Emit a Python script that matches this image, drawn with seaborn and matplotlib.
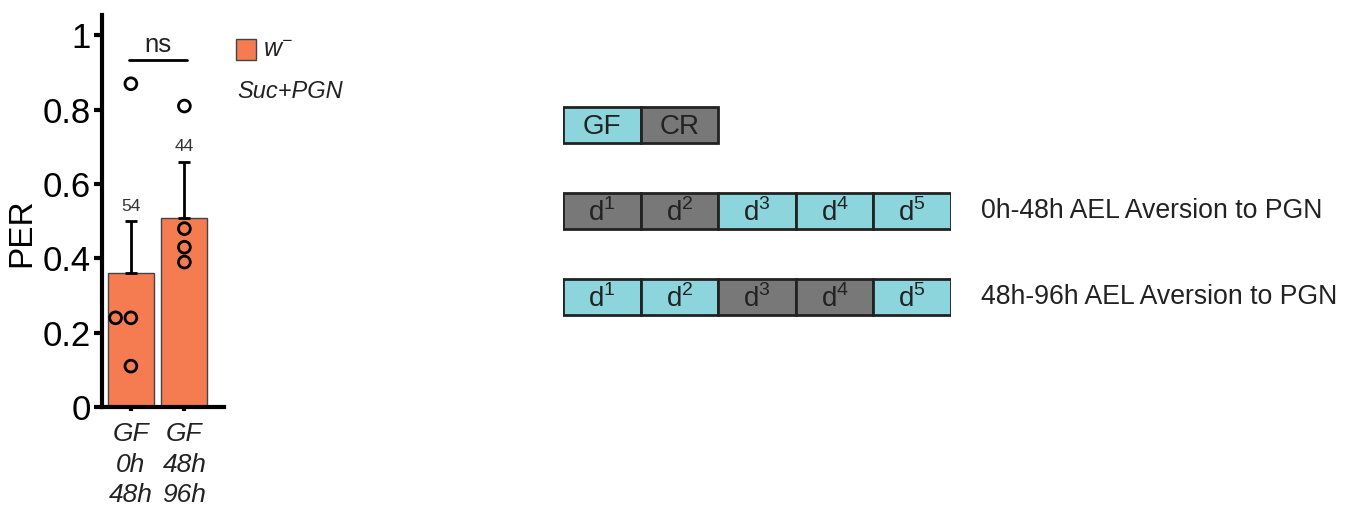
import pandas as pd
import matplotlib
matplotlib.use('Agg')
import matplotlib.pyplot as plt
import seaborn as sns

# PER data
groups = ['GF\n0h\n48h', 'GF\n48h\n96h']
per_mean = [0.36, 0.51]
per_err = [0.14, 0.15]
n_flies = [54, 44]
dots_0_48 = [0.87, 0.24, 0.24, 0.11]
dots_48_96 = [0.81, 0.48, 0.43, 0.39]

# rearing scheme diagram
key_states = ['GF', 'CR']
day_names = ['1', '2', '3', '4', '5']
early_states = ['CR', 'CR', 'GF', 'GF', 'GF']
late_states = ['GF', 'GF', 'CR', 'CR', 'GF']
scheme_labels = ['0h-48h AEL Aversion to PGN', '48h-96h AEL Aversion to PGN']

ORANGE = '#F47C50'
CYAN = '#8DD5DC'
GRAY = '#787878'
state_color = {'GF': CYAN, 'CR': GRAY}

sns.set_style('white', {'axes.edgecolor': 'black', 'text.color': 'black',
                        'xtick.color': 'black', 'ytick.color': 'black',
                        'axes.labelcolor': 'black'})
plt.rcParams['font.family'] = ['Liberation Sans', 'DejaVu Sans']

fig = plt.figure(figsize=(13.51, 5.08), dpi=100)

# ---- left: bar chart ----
ax = fig.add_axes([102 / 1351, 1 - 407 / 508, 122 / 1351, 392 / 508])
bars = pd.DataFrame({'group': groups, 'PER': per_mean})
sns.barplot(data=bars, x='group', y='PER', order=groups, color=ORANGE,
            saturation=1, width=0.86, edgecolor='#444444', linewidth=1,
            errorbar=None, ax=ax, zorder=2)
ax.errorbar(range(len(groups)), per_mean, yerr=[[0] * len(groups), per_err],
            fmt='none', ecolor='black', elinewidth=2, capsize=4, capthick=2, zorder=3)

dots = pd.DataFrame({'group': [groups[0]] * len(dots_0_48) + [groups[1]] * len(dots_48_96),
                     'PER': dots_0_48 + dots_48_96})
sns.swarmplot(data=dots, x='group', y='PER', order=groups, size=8.5,
              color='black', linewidth=2, edgecolor='black', ax=ax, zorder=4)
for coll in ax.collections:
    coll.set_facecolor('none')
    coll.set_edgecolor('black')

for i, n in enumerate(n_flies):
    ax.text(i, per_mean[i] + per_err[i] + 0.04, str(n), ha='center', va='center',
            fontsize=12.5, color='#333333')

# significance
ax.plot([-0.03, 1.05], [0.934, 0.934], color='black', lw=2, clip_on=False)
ax.text(0.5, 0.955, 'ns', ha='center', va='baseline', fontsize=18.5, color='#222222')

ax.set_xlim(-0.54, 1.74)
ax.set_ylim(0, 1.055)
ax.set_yticks([0, 0.2, 0.4, 0.6, 0.8, 1])
ax.set_yticklabels(['0', '0.2', '0.4', '0.6', '0.8', '1'])
ax.tick_params(axis='y', length=6, width=3, labelsize=25, pad=2, left=True)
ax.tick_params(axis='x', length=3, width=3, labelsize=19, pad=8, bottom=True)
for lab in ax.get_xticklabels():
    lab.set_fontstyle('italic')
    lab.set_linespacing(1.33)
    lab.set_color('#222222')
ax.set_xlabel('')
ax.set_ylabel('PER', fontsize=24)
ax.yaxis.set_label_coords(-0.53, 0.444)
sns.despine(ax=ax)
ax.spines['left'].set_linewidth(3)
ax.spines['bottom'].set_linewidth(3)

# legend
fig.patches.append(plt.Rectangle((236 / 1351, 1 - 60 / 508), 20 / 1351, 21 / 508,
                                 transform=fig.transFigure, facecolor=ORANGE,
                                 edgecolor='#444444', lw=1))
fig.text(263 / 1351, 1 - 50 / 508, r'w$^{\mathregular{-}}$', fontsize=18, style='italic',
         va='center', ha='left', color='#222222')
fig.text(237 / 1351, 1 - 91 / 508, 'Suc+PGN', fontsize=17, style='italic',
         va='center', ha='left', color='#222222')

# ---- right: rearing scheme ----
ax2 = fig.add_axes([563 / 1351, 1 - 340 / 508, 388 / 1351, 258 / 508])
rows = [key_states, early_states, late_states]
for r, states in enumerate(rows):
    lefts = list(range(len(states)))
    ax2.barh([r] * len(states), [1] * len(states), left=lefts, height=0.42,
             color=[state_color[s] for s in states], edgecolor='#222222', linewidth=2)
    for i, s in enumerate(states):
        if r == 0:
            label = s
        else:
            label = r'd$^{\mathregular{' + day_names[i] + '}}$'
        ax2.text(i + 0.5, r + 0.02, label, ha='center', va='center', fontsize=20,
                 color='#222222')
for r, lab in enumerate(scheme_labels, start=1):
    ax2.text(5.39, r, lab, ha='left', va='center', fontsize=19.2, color='#222222',
             clip_on=False)
ax2.set_xlim(0, 5)
ax2.set_ylim(2.5, -0.5)
ax2.axis('off')

fig.savefig('out.png', dpi=100)
